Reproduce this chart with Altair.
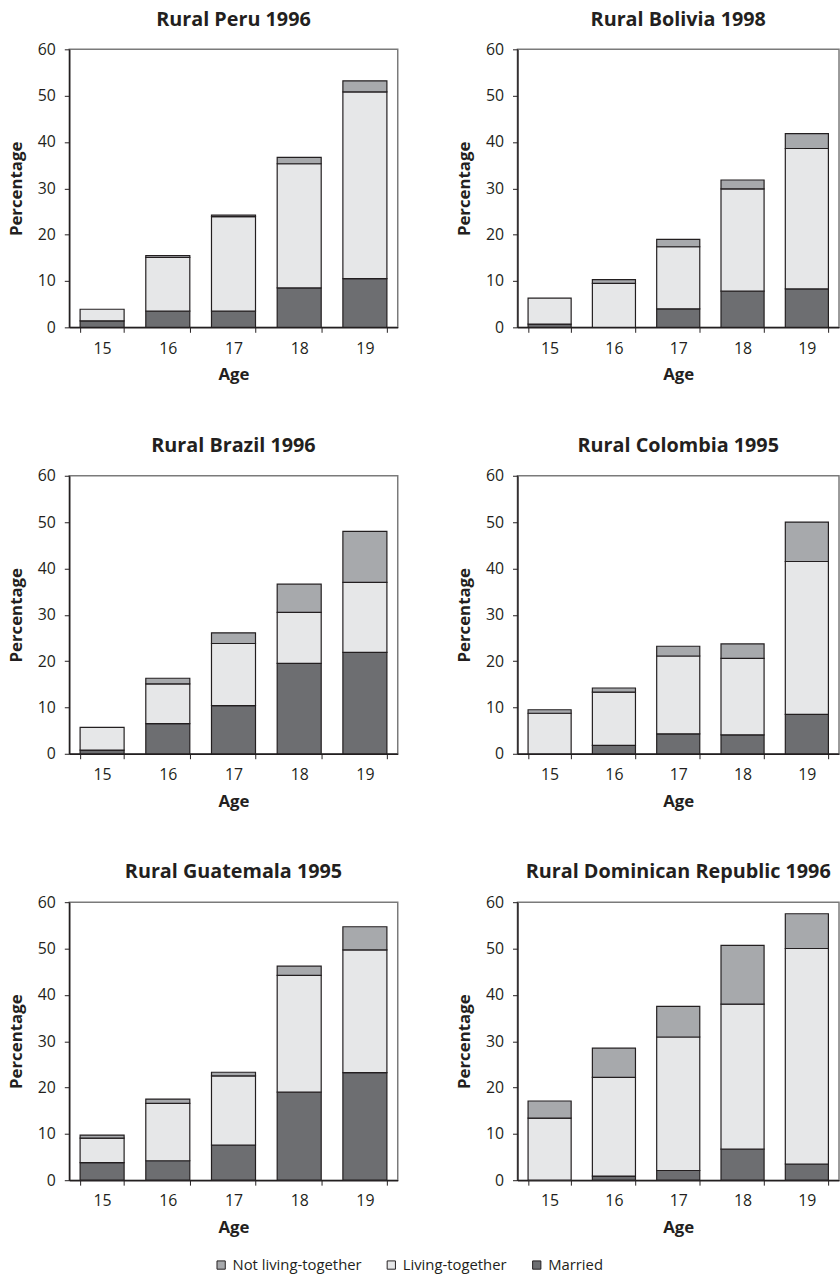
import altair as alt
import pandas as pd

# Age groups on the x axis
ages = ["15", "16", "17", "18", "19"]

# Union status categories (legend order) and their fills
statuses = ["Not living-together", "Living-together", "Married"]
fills = ["#a7a9ac", "#e6e7e8", "#6d6e71"]

# Percentage of women in each union status, by age (one list per status)
peru_married = [1.4, 3.5, 3.5, 8.5, 10.5]
peru_living = [2.5, 11.6, 20.4, 26.8, 40.3]
peru_not_living = [0.0, 0.4, 0.3, 1.4, 2.4]

bolivia_married = [0.7, 0.0, 4.0, 7.8, 8.3]
bolivia_living = [5.6, 9.5, 13.4, 22.1, 30.3]
bolivia_not_living = [0.0, 0.8, 1.6, 1.9, 3.2]

brazil_married = [0.8, 6.5, 10.4, 19.5, 21.9]
brazil_living = [4.9, 8.6, 13.4, 11.0, 15.1]
brazil_not_living = [0.0, 1.2, 2.3, 6.1, 11.0]

colombia_married = [0.0, 1.8, 4.3, 4.1, 8.5]
colombia_living = [8.75, 11.5, 16.8, 16.5, 33.0]
colombia_not_living = [0.75, 0.9, 2.1, 3.1, 8.5]

guatemala_married = [3.8, 4.2, 7.6, 19.0, 23.2]
guatemala_living = [5.3, 12.4, 14.9, 25.2, 26.5]
guatemala_not_living = [0.65, 0.9, 0.8, 2.0, 5.0]

dominican_married = [0.0, 0.9, 2.1, 6.7, 3.5]
dominican_living = [13.4, 21.3, 28.8, 31.3, 46.5]
dominican_not_living = [3.7, 6.3, 6.6, 12.7, 7.5]

panels = [
    ("Rural Peru 1996", peru_married, peru_living, peru_not_living),
    ("Rural Bolivia 1998", bolivia_married, bolivia_living, bolivia_not_living),
    ("Rural Brazil 1996", brazil_married, brazil_living, brazil_not_living),
    ("Rural Colombia 1995", colombia_married, colombia_living, colombia_not_living),
    ("Rural Guatemala 1995", guatemala_married, guatemala_living, guatemala_not_living),
    ("Rural Dominican Republic 1996", dominican_married, dominican_living, dominican_not_living),
]

FONT = "Open Sans"
INK = "#231f20"


def panel(title, married, living, not_living, width):
    rows = []
    for i, age in enumerate(ages):
        rows.append({"age": age, "status": "Married", "pct": married[i], "rank": 1})
        rows.append({"age": age, "status": "Living-together", "pct": living[i], "rank": 2})
        rows.append({"age": age, "status": "Not living-together", "pct": not_living[i], "rank": 3})
    df = pd.DataFrame(rows)
    df = df[df["pct"] > 0]
    return (
        alt.Chart(df, title=alt.TitleParams(
            title, fontSize=20, fontWeight="bold", font=FONT, color=INK,
            anchor="middle", frame="group", offset=12))
        .mark_bar(stroke=INK, strokeWidth=1.2)
        .encode(
            x=alt.X("age:N", sort=ages,
                    scale=alt.Scale(paddingInner=0.33, paddingOuter=0.165),
                    axis=alt.Axis(title="Age", labelAngle=0, tickBand="extent")),
            y=alt.Y("pct:Q", stack="zero",
                    scale=alt.Scale(domain=[0, 60], nice=False),
                    axis=alt.Axis(title="Percentage", values=[0, 10, 20, 30, 40, 50, 60])),
            color=alt.Color("status:N",
                            scale=alt.Scale(domain=statuses, range=fills),
                            legend=alt.Legend(
                                title=None, orient="none", direction="horizontal",
                                legendX=146, legendY=1221,
                                symbolType="square", symbolSize=70,
                                symbolStrokeColor=INK, symbolStrokeWidth=1,
                                labelFont=FONT, labelFontSize=15, labelColor=INK,
                                columnPadding=22, labelOffset=4)),
            order=alt.Order("rank:Q"),
        )
        .properties(width=width, height=281)
    )


charts = [panel(t, m, l, n, 332 if k % 2 == 0 else 325) for k, (t, m, l, n) in enumerate(panels)]

grid = alt.vconcat(
    alt.hconcat(charts[0], charts[1], spacing=56),
    alt.hconcat(charts[2], charts[3], spacing=56),
    alt.hconcat(charts[4], charts[5], spacing=56),
    spacing=52,
).resolve_legend(color="shared").properties(
    padding={"left": 6, "top": 2, "right": 0, "bottom": 0},
    background="white",
).configure_view(
    stroke="#7a7a7a", strokeWidth=1.5
).configure_axis(
    domainColor=INK, domainWidth=1.5, tickColor=INK, tickWidth=1, tickSize=5,
    labelFont=FONT, labelFontSize=16, labelColor=INK, labelPadding=9,
    titleFont=FONT, titleFontSize=17, titleFontWeight="bold", titleColor=INK,
    titlePadding=12, grid=False,
).configure_axisX(
    labelPadding=8, titlePadding=11,
)

grid.save("out.html", embed_options={"renderer": "svg", "actions": False})
